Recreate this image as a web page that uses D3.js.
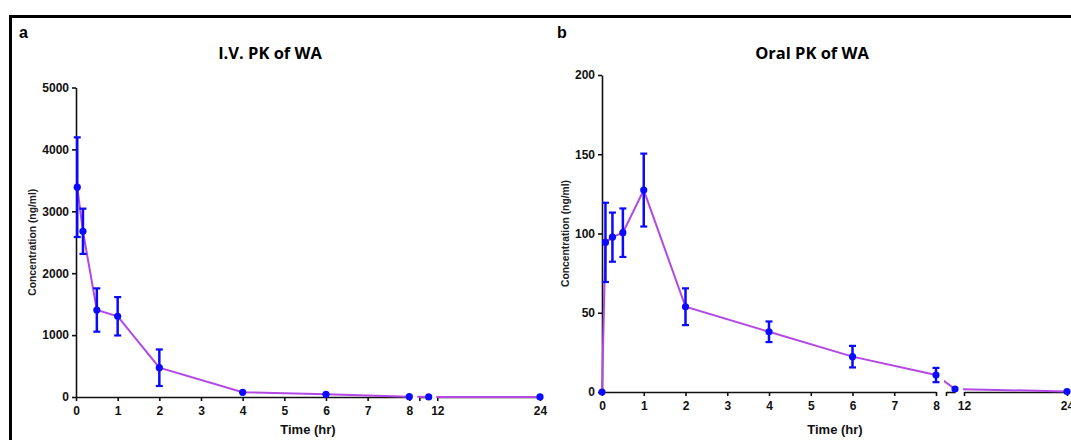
<!DOCTYPE html>
<html>
<head>
<meta charset="utf-8">
<script src="https://cdn.jsdelivr.net/npm/d3@7"></script>
<style>
  html, body { margin: 0; padding: 0; background: #fff; }
  svg { display: block; }
  .tick text { font-family: "Liberation Sans", Arial, sans-serif; font-weight: bold; font-size: 12px; fill: #111; }
</style>
</head>
<body>
<svg id="chart" width="1071" height="440"></svg>
<script>
// ---- Data ----
const ivTimes  = [0.03, 0.167, 0.5, 1, 2, 4, 6, 8, 12, 24];
const ivMeans  = [3390, 2677, 1405, 1304, 473, 76, 43, 5, 2, 1];
const ivSD     = [805, 366, 350, 310, 295, 0, 0, 0, 0, 0];

const oralTimes = [0, 0.083, 0.25, 0.5, 1, 2, 4, 6, 8, 12, 24];
const oralMeans = [0, 94.4, 97.7, 100.5, 127.4, 53.8, 38.0, 22.3, 10.7, 1.9, 0.3];
const oralSD    = [0, 25.0, 15.5, 15.3, 23.0, 11.6, 6.5, 6.8, 4.5, 0, 0];

const ivYTicks   = [0, 1000, 2000, 3000, 4000, 5000];
const oralYTicks = [0, 50, 100, 150, 200];
const xTicksSeg1 = [0, 1, 2, 3, 4, 5, 6, 7, 8];
const xTicksSeg3 = [12, 24];
const panelLabels = ["a", "b"];
const panelTitles = ["I.V. PK of WA", "Oral PK of WA"];
const xTitle = "Time (hr)";
const yTitle = "Concentration (ng/ml)";

const svg = d3.select("#chart");
const LINE = "#b348e6", DOT = "#0a0aff";

// border
svg.append("path")
  .attr("d", "M10.5,440V16.5H1071")
  .attr("fill", "none").attr("stroke", "#000").attr("stroke-width", 3);

const panels = [
  { times: ivTimes, means: ivMeans, sd: ivSD, yTicks: ivYTicks, yMax: 5000,
    yAxisX: 76, yRange: [397, 87.5],
    seg1: [76, 409.3], seg2: [419.3, 428.7], seg3: [437.3, 540],
    label: panelLabels[0], labelX: 19, title: panelTitles[0], titleX: 270, xTitleX: 308, yTitleX: 32 },
  { times: oralTimes, means: oralMeans, sd: oralSD, yTicks: oralYTicks, yMax: 200,
    yAxisX: 602, yRange: [392, 75],
    seg1: [602, 936], seg2: [946, 955], seg3: [964, 1067],
    label: panelLabels[1], labelX: 557, title: panelTitles[1], titleX: 812, xTitleX: 835, yTitleX: 565 }
];

panels.forEach((p, pi) => {
  const g = svg.append("g");
  const y = d3.scaleLinear().domain([0, p.yMax]).range(p.yRange);
  const s1 = d3.scaleLinear().domain([0, 8]).range(p.seg1);
  const s2 = d3.scaleLinear().domain([8, 12]).range(p.seg2);
  const s3 = d3.scaleLinear().domain([12, 24]).range(p.seg3);
  // point at 12 is drawn at the end of the middle segment
  const x = t => t <= 8 ? s1(t) : (t <= 12 ? s2(t) : s3(t));
  const y0 = p.yRange[0];

  // panel label and title
  g.append("text").attr("x", p.labelX).attr("y", 38)
    .attr("font-family", "Liberation Sans, Arial, sans-serif").attr("font-weight", "bold")
    .attr("font-size", 16).text(p.label);
  g.append("text").attr("x", p.titleX).attr("y", 59).attr("text-anchor", "middle")
    .attr("font-family", "Open Sans, sans-serif").attr("font-weight", "bold")
    .attr("font-size", 16.5).text(p.title);

  // y axis
  const ya = g.append("g").attr("transform", `translate(${p.yAxisX},0)`)
    .call(d3.axisLeft(y).tickValues(p.yTicks).tickFormat(d3.format("d")).tickSize(4).tickSizeOuter(0).tickPadding(3));
  ya.selectAll("path, line").attr("stroke", "#111").attr("stroke-width", 1.6);

  // x axis segments
  const mkX = (sc, ticks, labels) => {
    const ax = d3.axisBottom(sc).tickValues(ticks).tickSize(4).tickSizeOuter(0).tickPadding(5)
      .tickFormat(labels ? d3.format("d") : () => "");
    const a = g.append("g").attr("transform", `translate(0,${y0})`).call(ax);
    a.selectAll("path, line").attr("stroke", "#111").attr("stroke-width", 1.6);
  };
  mkX(s1, xTicksSeg1, true);
  mkX(s2, [8], false);
  mkX(s3, xTicksSeg3, true);

  // titles
  g.append("text").attr("x", p.xTitleX).attr("y", 434).attr("text-anchor", "middle")
    .attr("font-family", "Liberation Sans, Arial, sans-serif").attr("font-weight", "bold")
    .attr("font-size", 13).attr("fill", "#111").text(xTitle);
  const yc = (p.yRange[0] + p.yRange[1]) / 2;
  g.append("text").attr("transform", `translate(${p.yTitleX},${yc}) rotate(-90)`)
    .attr("text-anchor", "middle").attr("dy", "0.35em")
    .attr("font-family", "Liberation Sans, Arial, sans-serif").attr("font-weight", "bold")
    .attr("font-size", 10.3).attr("fill", "#222").text(yTitle);

  // clipped line pieces per segment
  const pts = p.times.map((t, i) => [x(t), y(p.means[i])]);
  const line = d3.line();
  const clips = [
    [p.seg1[0] - 5, p.seg1[1] + 1],
    [p.seg2[0] - 2, p.seg2[1] + 2],
    [p.seg3[0] - 1, p.seg3[1] + 6]
  ];
  clips.forEach((c, ci) => {
    const id = `clip${pi}_${ci}`;
    svg.append("clipPath").attr("id", id).append("rect")
      .attr("x", c[0]).attr("y", 0).attr("width", c[1] - c[0]).attr("height", 440);
    g.append("path").attr("d", line(pts)).attr("fill", "none")
      .attr("stroke", LINE).attr("stroke-width", 2).attr("clip-path", `url(#${id})`);
  });

  // error bars
  p.times.forEach((t, i) => {
    if (!p.sd[i]) return;
    const cx = x(t), top = y(p.means[i] + p.sd[i]), bot = y(p.means[i] - p.sd[i]);
    g.append("line").attr("x1", cx).attr("x2", cx).attr("y1", top).attr("y2", bot)
      .attr("stroke", DOT).attr("stroke-width", 2.5);
    [top, bot].forEach(yy => g.append("line").attr("x1", cx - 3.5).attr("x2", cx + 3.5)
      .attr("y1", yy).attr("y2", yy).attr("stroke", DOT).attr("stroke-width", 2.2));
  });

  // dots
  g.selectAll("circle.pt").data(p.times).enter().append("circle")
    .attr("cx", t => x(t)).attr("cy", (t, i) => y(p.means[i])).attr("r", 3.6).attr("fill", DOT);
});
</script>
</body>
</html>
